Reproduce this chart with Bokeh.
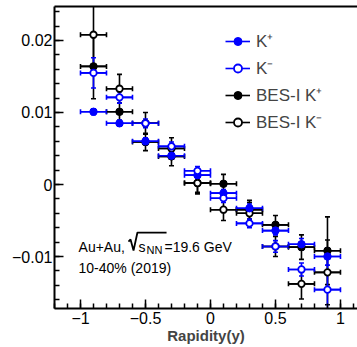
from bokeh.plotting import figure
from bokeh.models import (ColumnDataSource, Whisker, TeeHead, Range1d, FixedTicker,
                          LinearAxis, Legend, LegendItem, Label)
from bokeh.embed import file_html
from bokeh.resources import INLINE

# Rapidity bins (centres) and half bin width
rapidity = [-0.9, -0.7, -0.5, -0.3, -0.1, 0.1, 0.3, 0.5, 0.7, 0.9]
bin_half_width = [0.1, 0.1, 0.1, 0.1, 0.1, 0.1, 0.1, 0.1, 0.1, 0.1]

# Directed flow v1 vs rapidity
kplus = [0.0101, 0.0085, 0.0060, 0.0040, 0.0013, -0.0012, -0.0033, -0.0064, -0.0083, -0.0100]
kplus_err = [0.0004, 0.0004, 0.0005, 0.0005, 0.0005, 0.0005, 0.0006, 0.0006, 0.0008, 0.0012]

kminus = [0.0155, 0.0121, 0.0085, 0.0053, 0.0019, -0.0019, -0.0054, -0.0086, -0.0118, -0.0146]
kminus_err = [0.0021, 0.0008, 0.0006, 0.0006, 0.0006, 0.0006, 0.0006, 0.0008, 0.0009, 0.0045]

bes1_kplus = [0.0164, 0.0101, 0.0059, 0.0039, 0.0002, 0.0001, -0.0035, -0.0056, -0.0087, -0.0092]
bes1_kplus_err = [0.0045, 0.0012, 0.0012, 0.0013, 0.0013, 0.0013, 0.0013, 0.0013, 0.0017, 0.0047]

bes1_kminus = [0.0208, 0.0133, 0.0085, 0.0050, 0.0002, -0.0035, -0.0040, -0.0086, -0.0138, -0.0122]
bes1_kminus_err = [0.0045, 0.0020, 0.0015, 0.0015, 0.0015, 0.0015, 0.0015, 0.0014, 0.0021, 0.0045]

x_ticks = [-1, -0.5, 0, 0.5, 1]
x_tick_labels = ["\u22121", "\u22120.5", "0", "0.5", "1"]
y_ticks = [-0.01, 0, 0.01, 0.02]
y_tick_labels = ["\u22120.01", "0", "0.01", "0.02"]

FONT = "Liberation Sans"
BLUE = "#0000ff"
BLACK = "#000000"

p = figure(width=357, height=347, output_backend="svg", toolbar_location=None,
           x_range=Range1d(-1.2, 1.131), y_range=Range1d(-0.01722, 0.02472),
           min_border_left=54, min_border_right=0, min_border_top=6, min_border_bottom=39,
           background_fill_color="white", border_fill_color="white")
p.outline_line_color = None
p.grid.visible = False

# axes: ticks drawn inside the frame
for ax in (p.xaxis[0], p.yaxis[0]):
    ax.axis_line_width = 2
    ax.axis_line_color = BLACK
    ax.major_tick_in = 9
    ax.major_tick_out = 0
    ax.minor_tick_in = 5
    ax.minor_tick_out = 0
    ax.major_tick_line_width = 1.5
    ax.minor_tick_line_width = 1.5
    ax.major_label_text_font = FONT
    ax.major_label_text_font_size = "16px"
    ax.major_label_text_color = BLACK

minor_x = [round(-1.2 + 0.1 * i, 2) for i in range(24)]
minor_y = [round(-0.016 + 0.002 * i, 3) for i in range(21)]
p.xaxis.ticker = FixedTicker(ticks=x_ticks, minor_ticks=minor_x)
p.yaxis.ticker = FixedTicker(ticks=y_ticks, minor_ticks=minor_y)
p.xaxis.major_label_overrides = {t: l for t, l in zip(x_ticks, x_tick_labels)}
p.yaxis.major_label_overrides = {t: l for t, l in zip(y_ticks, y_tick_labels)}
p.xaxis.major_label_standoff = 3
p.yaxis.major_label_standoff = 2
p.xaxis.axis_label = "Rapidity(y)"
p.xaxis.axis_label_text_font = FONT
p.xaxis.axis_label_text_font_style = "bold"
p.xaxis.axis_label_text_font_size = "15px"
p.xaxis.axis_label_standoff = 0

# top frame line
top = LinearAxis(ticker=FixedTicker(ticks=[]), major_label_text_font_size="0px",
                 axis_line_width=2, major_tick_in=0, major_tick_out=0,
                 minor_tick_in=0, minor_tick_out=0)
p.add_layout(top, "above")


def draw_series(y, err, color, filled):
    lower = [v - e for v, e in zip(y, err)]
    upper = [v + e for v, e in zip(y, err)]
    xl = [x - h for x, h in zip(rapidity, bin_half_width)]
    xu = [x + h for x, h in zip(rapidity, bin_half_width)]
    src = ColumnDataSource(dict(x=rapidity, y=y, lower=lower, upper=upper, xl=xl, xu=xu))
    vw = Whisker(source=src, base="x", lower="lower", upper="upper", dimension="height",
                 line_color=color, line_width=1.6,
                 upper_head=TeeHead(size=5, line_color=color, line_width=1.6),
                 lower_head=TeeHead(size=5, line_color=color, line_width=1.6))
    hw = Whisker(source=src, base="y", lower="xl", upper="xu", dimension="width",
                 line_color=color, line_width=1.6,
                 upper_head=TeeHead(size=5, line_color=color, line_width=1.6),
                 lower_head=TeeHead(size=5, line_color=color, line_width=1.6))
    p.add_layout(vw)
    p.add_layout(hw)
    seg = p.segment(x0="xl", x1="xu", y0="y", y1="y", source=src,
                    line_color=color, line_width=1.6)
    if filled:
        mk = p.scatter(x="x", y="y", source=src, marker="circle", size=7.5,
                       fill_color=color, line_color=color, line_width=1)
    else:
        mk = p.scatter(x="x", y="y", source=src, marker="circle", size=6.5,
                       fill_color="white", line_color=color, line_width=1.8)
    return [seg, mk]


r_b1_kp = draw_series(bes1_kplus, bes1_kplus_err, BLACK, True)
r_b1_km = draw_series(bes1_kminus, bes1_kminus_err, BLACK, False)
r_kp = draw_series(kplus, kplus_err, BLUE, True)
r_km = draw_series(kminus, kminus_err, BLUE, False)

legend = Legend(items=[
    LegendItem(label="K\u207a", renderers=r_kp),
    LegendItem(label="K\u207b", renderers=r_km),
    LegendItem(label="BES-I K\u207a", renderers=r_b1_kp),
    LegendItem(label="BES-I K\u207b", renderers=r_b1_km),
], location=(171, 175), padding=0, margin=0, spacing=4,
    glyph_width=25, glyph_height=20, label_height=20, label_standoff=6,
    label_text_font=FONT, label_text_font_size="17px",
    border_line_color=None, background_fill_alpha=0)
p.add_layout(legend, "center")

# collision system annotation
txt = dict(text_font=FONT, text_color=BLACK, text_baseline="alphabetic")
p.add_layout(Label(x=-1.015, y=-0.00861, text="Au+Au,", text_font_size="14px", **txt))
p.line(x=[-0.631, -0.615, -0.592, -0.562, -0.338],
       y=[-0.00792, -0.00764, -0.00917, -0.00667, -0.00667],
       line_color=BLACK, line_width=1.8)
p.add_layout(Label(x=-0.554, y=-0.00861, text="s", text_font_size="14px", **txt))
p.add_layout(Label(x=-0.492, y=-0.00903, text="NN", text_font_size="11px", **txt))
p.add_layout(Label(x=-0.354, y=-0.00861, text="=19.6 GeV", text_font_size="14px", **txt))
p.add_layout(Label(x=-1.015, y=-0.01153, text="10-40% (2019)", text_font_size="14px", **txt))

open("out.html", "w").write(file_html(p, INLINE))
